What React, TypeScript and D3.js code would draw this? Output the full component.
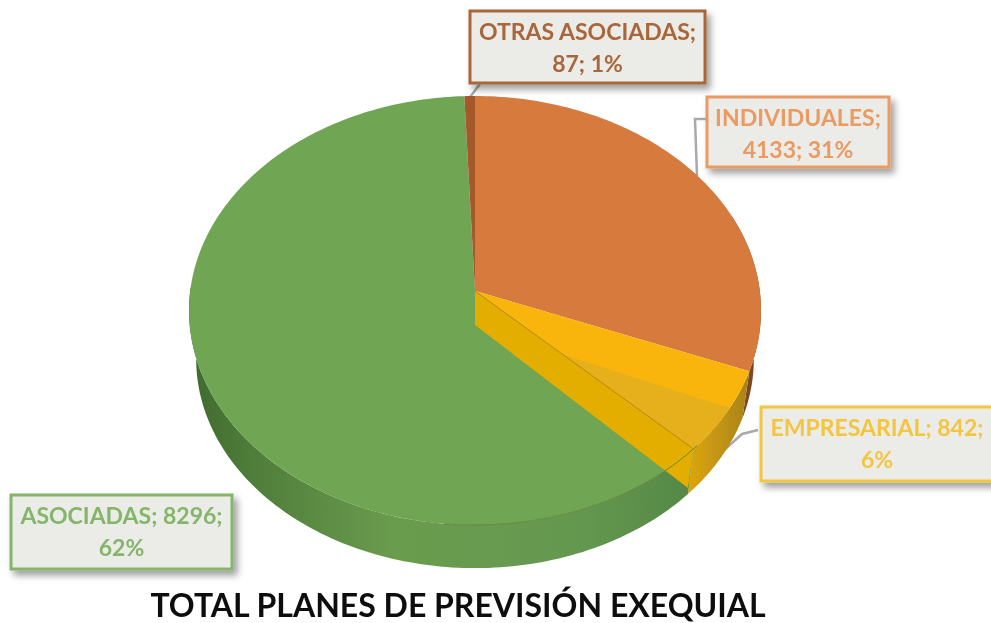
import React from "react";
import * as d3 from "d3";

const categories = ["INDIVIDUALES", "EMPRESARIAL", "ASOCIADAS", "OTRAS ASOCIADAS"];
const values = [4133, 842, 8296, 87];
const topColors = ["#D67A3C", "#FAB508", "#70A552", "#A5592B"];
const titleText = "TOTAL PLANES DE PREVISIÓN EXEQUIAL";
const labelColors = ["#EB9A62", "#F3C540", "#84B66A", "#A9663A"];
const labelLines = [
  ["INDIVIDUALES;", "4133; 31%"],
  ["EMPRESARIAL; 842;", "6%"],
  ["ASOCIADAS; 8296;", "62%"],
  ["OTRAS ASOCIADAS;", "87; 1%"],
];
const boxes = [
  { x: 707, y: 97, w: 182, h: 70 },
  { x: 761, y: 407, w: 232, h: 74 },
  { x: 11, y: 495, w: 221, h: 74 },
  { x: 470, y: 11, w: 235, h: 72 },
];
const leaders = [
  [[707, 119], [695, 119], [697, 176]],
  [[758, 430], [742, 434], [722, 452]],
  [[216, 494], [216, 425]],
  [[480, 84], [470, 97]],
];

const CX = 475, CY = 291, A = 284.8, B = 212.7, K = -0.0909, DEPTH = 49;

function project(theta: number, r = 1, dy = 0, s = 1): [number, number] {
  const u = r * Math.sin(theta), v = r * Math.cos(theta);
  const d = 1 - K * v;
  return [CX + (s * A * u) / d, CY - (s * B * v) / d + dy];
}
function samples(a0: number, a1: number, dy = 0, s = 1) {
  const n = Math.max(2, Math.ceil(Math.abs(a1 - a0) / 0.02));
  return d3.range(n + 1).map((i) => project(a0 + ((a1 - a0) * i) / n, 1, dy, s));
}
const line = d3.line();

export default function App() {
  const arcs = d3.pie<number>().sort(null)(values);
  const PI = Math.PI;
  const wallS = 0.975;
  const wall = (a0: number, a1: number) =>
    line([...samples(a0, a1), ...samples(a0, a1, DEPTH, wallS).reverse()]) + "Z";
  const wedge = (a0: number, a1: number) => line([[CX, CY], ...samples(a0, a1)]) + "Z";

  const [ind, emp, aso, otr] = arcs;
  const empEnd = emp.endAngle;
  const endPt = project(empEnd);
  const inner = line([
    [CX, CY],
    [CX, CY + 34],
    project(empEnd, 1, DEPTH - 6, wallS),
    endPt,
  ]) + "Z";
  const midShade = (emp.startAngle + emp.endAngle) / 2 - 0.02;
  const shadeStart: [number, number] = [CX + (endPt[0] - CX) * 0.4, CY + (endPt[1] - CY) * 0.4];
  const shade = line([shadeStart, ...samples(midShade, empEnd)]) + "Z";

  return (
    <svg width={991} height={623} style={{ position: "absolute", left: 0, top: 0, background: "#fff" }}
      fontFamily="Lato, 'Open Sans', sans-serif">
      <defs>
        <filter id="sh" x="-15%" y="-15%" width="135%" height="140%">
          <feDropShadow dx="4" dy="5" stdDeviation="3.5" floodColor="#000" floodOpacity="0.38" />
        </filter>
        <filter id="soft"><feGaussianBlur stdDeviation="0.7" /></filter>
        <linearGradient id="gw" gradientUnits="userSpaceOnUse" x1={190} x2={700} y1={0} y2={0}>
          <stop offset="0" stopColor="#3F6A2E" />
          <stop offset="0.12" stopColor="#4F7D3A" />
          <stop offset="0.4" stopColor="#6A9C4E" />
          <stop offset="0.75" stopColor="#659850" />
          <stop offset="1" stopColor="#548745" />
        </linearGradient>
        <linearGradient id="yw" gradientUnits="userSpaceOnUse" x1={690} x2={750} y1={0} y2={0}>
          <stop offset="0" stopColor="#DBA50F" />
          <stop offset="1" stopColor="#A8821A" />
        </linearGradient>
      </defs>

      {leaders.map((pts, i) => (
        <path key={i} d={line(pts as [number, number][]) ?? ""} fill="none" stroke="#A9A9A9" strokeWidth={2.5} filter="url(#soft)" />
      ))}

      <g filter="url(#soft)">
        <path d={wall(ind.startAngle + 1.2, ind.endAngle)} fill="#7E4A22" />
        <path d={wall(emp.startAngle, emp.endAngle)} fill="url(#yw)" />
        <path d={wall(aso.startAngle, 3 * PI / 2 + 0.02)} fill="url(#gw)" />

        <path d={wedge(ind.startAngle, ind.endAngle)} fill={topColors[0]} />
        <path d={wedge(emp.startAngle, emp.endAngle)} fill={topColors[1]} />
        <path d={shade} fill="#E6AF1C" />
        <path d={wedge(aso.startAngle, aso.endAngle)} fill={topColors[2]} />
        <path d={wedge(otr.startAngle, otr.endAngle)} fill={topColors[3]} />

        <path d={inner} fill="#E4AE06" />
        <path d={line(samples(emp.endAngle - 0.02, emp.endAngle + 0.9)) ?? ""} fill="none" stroke="#5F8A3A" strokeWidth={1} />
        <path d={line([[CX, CY], endPt]) ?? ""} fill="none" stroke="#B98A10" strokeWidth={1} />
      </g>

      {categories.map((c, i) => {
        const b = boxes[i];
        return (
          <g key={c}>
            <rect x={b.x} y={b.y} width={b.w} height={b.h} fill="#EBEBE8" stroke={labelColors[i]} strokeWidth={3} filter="url(#sh)" />
            <text textAnchor="middle" fontWeight={700} fontSize={23} fill={labelColors[i]} filter="url(#soft)">
              <tspan x={b.x + b.w / 2} y={b.y + 29}>{labelLines[i][0]}</tspan>
              <tspan x={b.x + b.w / 2} y={b.y + 61}>{labelLines[i][1]}</tspan>
            </text>
          </g>
        );
      })}

      <text x={458} y={617} textAnchor="middle" fontWeight={700} fontSize={32} fill="#111" filter="url(#soft)">{titleText}</text>
    </svg>
  );
}
